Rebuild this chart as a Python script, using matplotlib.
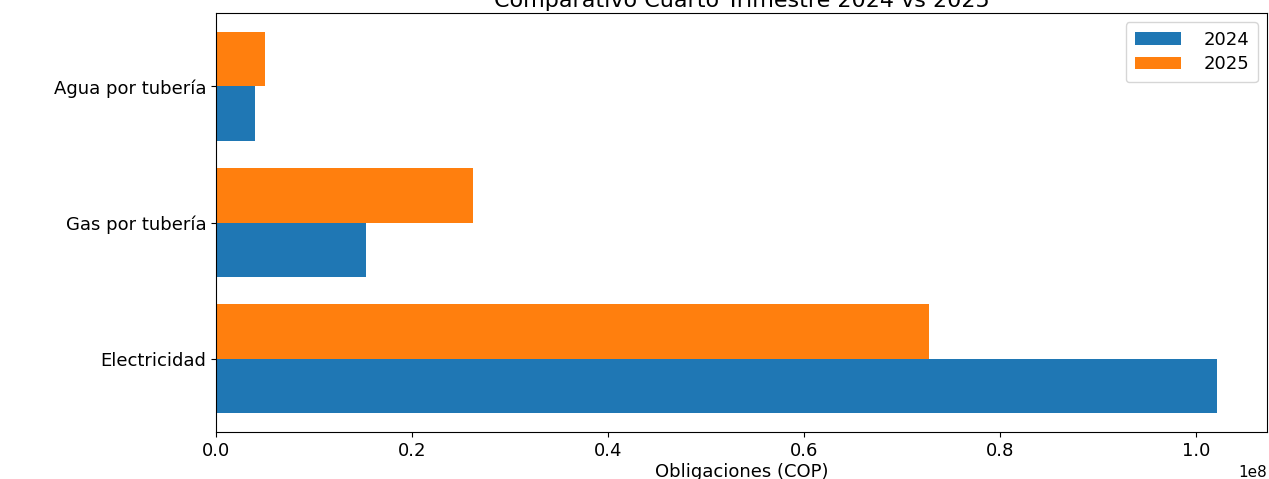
import matplotlib
matplotlib.use("Agg")
import matplotlib.pyplot as plt
import numpy as np

categories = ["Electricidad", "Gas por tubería", "Agua por tubería"]
values_2024 = [1.0214e8, 0.1530e8, 0.0398e8]
values_2025 = [0.7276e8, 0.2622e8, 0.0500e8]
series_labels = ["2024", "2025"]

plt.rcParams['font.family'] = ['DejaVu Sans']
plt.rcParams['font.size'] = 13
fig = plt.figure(figsize=(12.69, 4.79), dpi=100)
ax = fig.add_axes([0.1702, 0.098, 0.8282, 0.8749])

y = np.arange(len(categories))
h = 0.4
ax.barh(y - h / 2, values_2024, height=h, color="#1f77b4", label=series_labels[0])
ax.barh(y + h / 2, values_2025, height=h, color="#ff7f0e", label=series_labels[1])
ax.set_yticks(y)
ax.set_yticklabels(categories)
ax.tick_params(axis="x", pad=4)
ax.xaxis.get_offset_text().set_fontsize(11)
ax.set_xlabel("Obligaciones (COP)", labelpad=2)
ax.set_title("Comparativo Cuarto Trimestre 2024 vs 2025", fontsize=16, pad=4)
ax.legend(loc="upper right", handlelength=2.6, handletextpad=1.2,
          borderaxespad=0.5, labelspacing=0.35, borderpad=0.5)

fig.savefig("out.png", dpi=100)
